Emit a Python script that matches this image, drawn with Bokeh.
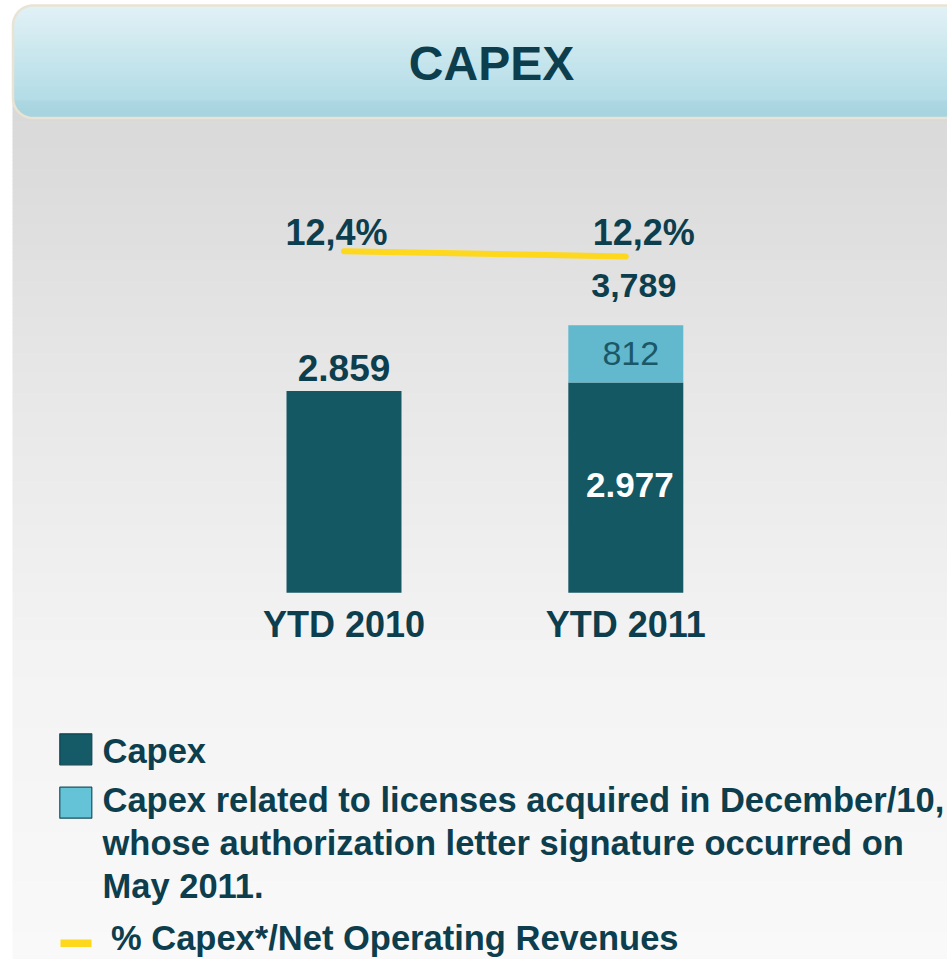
from bokeh.plotting import figure
from bokeh.models import Range1d, ColumnDataSource
from bokeh.embed import file_html
from bokeh.resources import INLINE
from bokeh.core.properties import value
import math

# ---------------- data ----------------
categories = ["YTD 2010", "YTD 2011"]
capex = [2859, 2977]
licenses = [0, 812]
capex_pct = [12.4, 12.2]
capex_labels = ["2.859", "2.977"]
license_labels = ["", "812"]
total_labels = ["", "3,789"]
pct_labels = ["12,4%", "12,2%"]
title_text = "CAPEX"
legend_capex = "Capex"
legend_license_lines = [
    "Capex related to licenses acquired in December/10,",
    "whose authorization letter signature occurred on",
    "May 2011.",
]
legend_pct = "% Capex*/Net Operating Revenues"

# ---------------- style ----------------
FONT = value("Liberation Sans")
TEXT = "#0c3e4e"
DARK = "#145864"
LIGHT = "#62b8cd"
YELLOW = "#fdd81c"

W, H = 947, 959
L, R, T, B = 0, W, 0, H

# scale geometry (pixel anchors of the data scales)
cat0_px, cat_unit = 343.5, 281.8
base_px, val_k = 592.3, 0.0706
pct_ref, pct_px, pct_k = 12.4, 250.7, 26.5

p = figure(width=W, height=H, output_backend="svg", toolbar_location=None,
           x_range=Range1d(L, R), y_range=Range1d(B, T),
           x_axis_location=None, y_axis_location=None, min_border=0,
           background_fill_color="white", border_fill_color="white",
           outline_line_color=None)
p.grid.grid_line_color = None
p.extra_x_ranges = {"cat": Range1d((L - cat0_px) / cat_unit, (R - cat0_px) / cat_unit)}
p.extra_y_ranges = {
    "val": Range1d((base_px - B) / val_k, (base_px - T) / val_k),
    "pct": Range1d(pct_ref - (B - pct_px) / pct_k, pct_ref + (pct_px - T) / pct_k),
}

def lerp_stops(stops, y):
    for (y0, c0), (y1, c1) in zip(stops, stops[1:]):
        if y0 <= y <= y1:
            t = (y - y0) / (y1 - y0)
            return tuple(int(round(a + (b - a) * t)) for a, b in zip(c0, c1))
    return stops[-1][1] if y > stops[-1][0] else stops[0][1]

def hexc(c):
    return "#%02x%02x%02x" % c

# ---------------- gray panel gradient ----------------
gstops = [(100, (217, 217, 217)), (140, (218, 218, 218)), (400, (232, 232, 232)),
          (650, (243, 243, 243)), (959, (249, 249, 249))]
gl, gr, gt, gb, gc = [], [], [], [], []
y = 100
while y < B:
    gl.append(12); gr.append(R); gt.append(y); gb.append(min(y + 4.6, B))
    gc.append(hexc(lerp_stops(gstops, y + 2)))
    y += 4
p.quad(left=gl, right=gr, top=gt, bottom=gb, fill_color=gc, line_color=None)

# ---------------- header box ----------------
hx, htop, hbot, rad = 12.5, 5.0, 117.5, 20.0
hstops = [(htop, (222, 240, 245)), (hbot, (157, 210, 223))]
hl, hr_, ht, hb, hc = [], [], [], [], []
y = htop
while y < hbot:
    yc = y + 0.5
    if yc < htop + rad:
        dy = htop + rad - yc
        left = hx + rad - math.sqrt(max(rad * rad - dy * dy, 0))
    elif yc > hbot - rad:
        dy = yc - (hbot - rad)
        left = hx + rad - math.sqrt(max(rad * rad - dy * dy, 0))
    else:
        left = hx
    hl.append(left); hr_.append(R); ht.append(y); hb.append(y + 1.3)
    hc.append(hexc(lerp_stops(hstops, yc)))
    y += 1
p.quad(left=hl, right=hr_, top=ht, bottom=hb, fill_color=hc, line_color=None)

bx, by = [R, hx + rad], [htop, htop]
for k in range(0, 31):
    a = math.pi / 2 + k * (math.pi / 2) / 30
    bx.append(hx + rad + rad * math.cos(a)); by.append(htop + rad - rad * math.sin(a))
for k in range(0, 31):
    a = math.pi + k * (math.pi / 2) / 30
    bx.append(hx + rad + rad * math.cos(a)); by.append(hbot - rad - rad * math.sin(a))
bx.append(R); by.append(hbot)
p.line(bx, by, line_color="#e9e3d3", line_width=2.5)

p.text(x=[491], y=[63], text=[title_text], text_font=FONT, text_font_style="bold",
       text_font_size="48px", text_color=TEXT, text_align="center",
       text_baseline="middle")

# ---------------- bars ----------------
idx = list(range(len(categories)))
src = ColumnDataSource(dict(x=idx, capex=capex, licenses=licenses))
p.vbar_stack(["capex", "licenses"], x="x", width=0.408, fill_color=[DARK, LIGHT],
             line_color=None, source=src, x_range_name="cat", y_range_name="val")

# % line
p.line(x=idx, y=capex_pct, line_color=YELLOW, line_width=6, line_cap="round",
       x_range_name="cat", y_range_name="pct")

# labels (text_baseline "middle": anchor = centre of the capitals)
above = [i for i in idx if licenses[i] == 0]
inside = [i for i in idx if licenses[i] != 0]
p.text(x=above, y=[capex[i] for i in above], text=[capex_labels[i] for i in above],
       x_range_name="cat", y_range_name="val", y_offset=-23,
       text_font=FONT, text_font_style="bold", text_font_size="37px",
       text_color=TEXT, text_align="center", text_baseline="middle")
p.text(x=inside, y=[capex[i] / 2 for i in inside], text=[capex_labels[i] for i in inside],
       x_range_name="cat", y_range_name="val", x_offset=4, y_offset=-3,
       text_font=FONT, text_font_style="bold", text_font_size="35px",
       text_color="white", text_align="center", text_baseline="middle")
p.text(x=inside, y=[capex[i] + licenses[i] / 2 for i in inside],
       text=[license_labels[i] for i in inside],
       x_range_name="cat", y_range_name="val", x_offset=5, y_offset=0,
       text_font=FONT, text_font_size="34px",
       text_color="#1a5868", text_align="center", text_baseline="middle")
p.text(x=inside, y=[capex[i] + licenses[i] for i in inside],
       text=[total_labels[i] for i in inside],
       x_range_name="cat", y_range_name="val", x_offset=8, y_offset=-40,
       text_font=FONT, text_font_style="bold", text_font_size="34px",
       text_color=TEXT, text_align="center", text_baseline="middle")
pct_src = ColumnDataSource(dict(x=idx, y=capex_pct, t=pct_labels,
                                dx=[-7.5, 18], dy=[-19, -24.3]))
p.text(x="x", y="y", text="t", x_offset="dx", y_offset="dy", source=pct_src,
       x_range_name="cat", y_range_name="pct",
       text_font=FONT, text_font_style="bold", text_font_size="36px",
       text_color=TEXT, text_align="center", text_baseline="middle")
p.text(x=idx, y=[0] * len(idx), text=categories,
       x_range_name="cat", y_range_name="val", y_offset=32,
       text_font=FONT, text_font_style="bold", text_font_size="36px",
       text_color=TEXT, text_align="center", text_baseline="middle")

# ---------------- legend ----------------
p.quad(left=[59.3], right=[91.3], top=[733.3], bottom=[764.3],
       fill_color="#155a67", line_color="#0f4553", line_width=1.2)
p.quad(left=[59.3], right=[91.3], top=[786.7], bottom=[817.7],
       fill_color="#64c3d6", line_color="#1a4f5e", line_width=1.2)
p.quad(left=[60], right=[91], top=[939], bottom=[946.5],
       fill_color=YELLOW, line_color=None)
p.text(x=[102], y=[750.3], text=[legend_capex], text_font=FONT,
       text_font_style="bold", text_font_size="34.5px", text_color=TEXT,
       text_baseline="middle")
p.text(x=[102] * 3, y=[799.4, 842.7, 885.7], text=legend_license_lines, text_font=FONT,
       text_font_style="bold", text_font_size="34.5px", text_color=TEXT,
       text_baseline="middle")
p.text(x=[110.5], y=[937.7], text=[legend_pct], text_font=FONT,
       text_font_style="bold", text_font_size="34.5px", text_color=TEXT,
       text_baseline="middle")

open("out.html", "w").write(file_html(p, INLINE))
